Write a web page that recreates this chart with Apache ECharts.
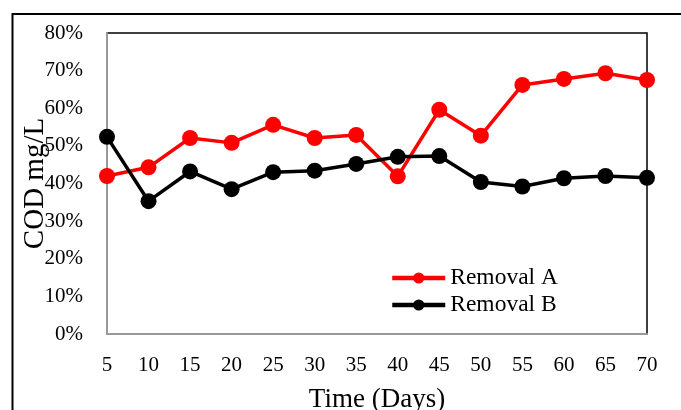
<!DOCTYPE html>
<html><head><meta charset="utf-8">
<script src="https://cdn.jsdelivr.net/npm/echarts@6/dist/echarts.min.js"></script>
<style>html,body{margin:0;padding:0;background:#fff}#c{width:681px;height:410px}</style>
</head><body><div id="c"></div>
<script>
const days = ['5','10','15','20','25','30','35','40','45','50','55','60','65','70'];
const removalA = [42, 44.3, 52.1, 50.8, 55.6, 52.1, 52.9, 41.9, 59.6, 52.7, 66.2, 67.8, 69.3, 67.5];
const removalB = [52.4, 35.3, 43.2, 38.5, 43.0, 43.4, 45.2, 47.1, 47.3, 40.4, 39.2, 41.4, 42.0, 41.5];
const FONT = 'Liberation Serif';
const chart = echarts.init(document.getElementById('c'));
chart.setOption({
  animation: false,
  backgroundColor: '#fff',
  graphic: [{type:'rect', shape:{x:12.5,y:14,width:700,height:420}, style:{fill:'none', stroke:'#000', lineWidth:2}, z:-1}],
  grid: {left:107, top:33, right:34, bottom:76, show:true, borderColor:'#000', borderWidth:1.5,
         containLabel:false, outerBoundsMode:'none'},
  legend: {
    orient:'vertical', left:385, top:261, itemWidth:53, itemHeight:14, itemGap:3,
    lineStyle:{width:4.5},
    textStyle:{fontFamily:FONT, fontSize:23.5, color:'#000'},
    data:['Removal A','Removal B']
  },
  xAxis: {
    type:'category', data: days, boundaryGap:false,
    name:'Time (Days)', nameLocation:'middle', nameGap:52, nameMoveOverlap:false,
    nameTextStyle:{fontFamily:FONT, fontSize:27, color:'#000'},
    axisLine:{lineStyle:{color:'#999', width:2}},
    axisTick:{show:false},
    axisLabel:{fontFamily:FONT, fontSize:21, color:'#000', margin:21},
    splitLine:{show:false}
  },
  yAxis: {
    type:'value', min:0, max:80, interval:10,
    name:'COD mg/L', nameLocation:'middle', nameGap:57, nameMoveOverlap:false,
    nameTextStyle:{fontFamily:FONT, fontSize:29, color:'#000'},
    axisLine:{show:true, lineStyle:{color:'#999', width:2}},
    axisTick:{show:false},
    axisLabel:{fontFamily:FONT, fontSize:21, color:'#000', margin:24, formatter: v => v + '%'},
    splitLine:{show:false}
  },
  series: [
    {name:'Removal A', type:'line', data: removalA, symbol:'circle', symbolSize:16,
     itemStyle:{color:'#ff0000'}, lineStyle:{color:'#ff0000', width:3.5}},
    {name:'Removal B', type:'line', data: removalB, symbol:'circle', symbolSize:16,
     itemStyle:{color:'#000'}, lineStyle:{color:'#000', width:3.5}}
  ]
});
</script></body></html>
